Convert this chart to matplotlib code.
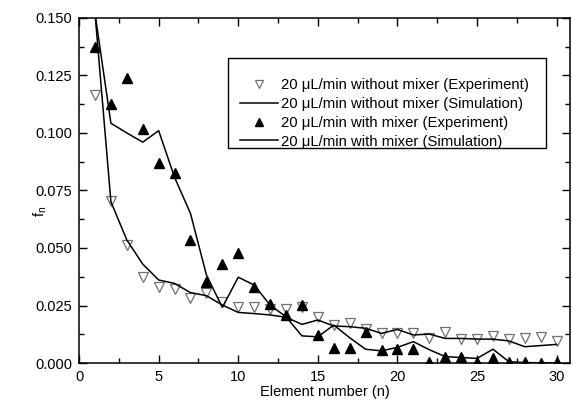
import numpy as np
import matplotlib.pyplot as plt
from matplotlib.patches import Rectangle
from matplotlib.ticker import MultipleLocator

plt.rcParams["font.family"] = ["Liberation Sans", "DejaVu Sans"]

element = np.arange(1, 31)

# 20 uL/min without mixer, experiment (open triangles)
no_mixer_exp = [0.1165, 0.0706, 0.0514, 0.0374, 0.0332, 0.0322, 0.0283, 0.0304,
                0.0265, 0.0245, 0.0245, 0.0235, 0.0235, 0.0242, 0.0201, 0.0165,
                0.0175, 0.0147, 0.0129, 0.0130, 0.0129, 0.0110, 0.0136, 0.0104,
                0.0106, 0.0117, 0.0104, 0.0110, 0.0115, 0.0096]

# 20 uL/min without mixer, simulation
no_mixer_sim = [0.152, 0.0701, 0.0535, 0.0430, 0.0361, 0.0346, 0.0306, 0.0293,
                0.0252, 0.0220, 0.0215, 0.0209, 0.0199, 0.0168, 0.0187, 0.0161,
                0.0158, 0.0151, 0.0129, 0.0146, 0.0122, 0.0126, 0.0107, 0.0107,
                0.0104, 0.0104, 0.0096, 0.0071, 0.0076, 0.0081]

# 20 uL/min with mixer, experiment (filled triangles)
mixer_exp = [0.1373, 0.1125, 0.1238, 0.1016, 0.0868, 0.0825, 0.0535, 0.0354,
             0.0430, 0.0480, 0.0332, 0.0255, 0.0209, 0.0252, 0.0122, 0.0064,
             0.0064, 0.0136, 0.0057, 0.0059, 0.0059, 0.0005, 0.0027, 0.0027,
             0.0006, 0.0020, 0.0003, 0.0003, 0.0002, 0.0005]

# 20 uL/min with mixer, simulation
mixer_sim = [0.152, 0.1042, 0.1000, 0.0960, 0.1010, 0.0807, 0.0650, 0.0383,
             0.0242, 0.0373, 0.0339, 0.0252, 0.0201, 0.0118, 0.0114, 0.0165,
             0.0110, 0.0060, 0.0053, 0.0068, 0.0093, 0.0058, 0.0028, 0.0024,
             0.0020, 0.0060, 0.0006, 0.0002, 0.0001, 0.0001]

fig = plt.figure(figsize=(5.73, 4.07), dpi=100)
ax = fig.add_axes([0.138, 0.108, 0.857, 0.848])

ax.plot(element, no_mixer_exp, linestyle="none", marker="v", markersize=7,
        markerfacecolor="white", markeredgecolor="#707070", markeredgewidth=0.9,
        label="20 \u03bcL/min without mixer (Experiment)")
ax.plot(element, no_mixer_sim, color="black", linewidth=1.1,
        label="20 \u03bcL/min without mixer (Simulation)")
ax.plot(element, mixer_exp, linestyle="none", marker="^", markersize=7,
        color="black", label="20 \u03bcL/min with mixer (Experiment)")
ax.plot(element, mixer_sim, color="black", linewidth=1.1,
        label="20 \u03bcL/min with mixer (Simulation)")

ax.set_xlim(0, 30.85)
ax.set_ylim(0, 0.150)
ax.xaxis.set_major_locator(MultipleLocator(5))
ax.xaxis.set_minor_locator(MultipleLocator(2.5))
ax.yaxis.set_major_locator(MultipleLocator(0.025))
ax.yaxis.set_minor_locator(MultipleLocator(0.0125))
ax.yaxis.set_major_formatter(plt.FormatStrFormatter("%.3f"))

ax.tick_params(which="both", direction="in", top=True, right=True,
               labelsize=10.5, width=1.0)
ax.tick_params(which="major", length=6, pad=5)
ax.tick_params(which="minor", length=3.5)
for s in ax.spines.values():
    s.set_linewidth(1.1)

ax.set_xlabel("Element number (n)", fontsize=10.5, labelpad=1)
ax.set_ylabel(r"f$_\mathregular{n}$", fontsize=10.5)
ax.yaxis.set_label_coords(-0.062, 0.44)

# legend box drawn by hand, legend entries without frame
ax.add_patch(Rectangle((0.3035, 0.623), 0.6475, 0.261, transform=ax.transAxes,
                       fill=False, edgecolor="black", linewidth=1.0, zorder=5))
ax.legend(loc="upper left", bbox_to_anchor=(0.328, 0.826), fontsize=10.7,
          frameon=False, borderpad=0, borderaxespad=0, markerscale=0.8,
          handlelength=2.55, handletextpad=0.2, labelspacing=0.33)

fig.savefig("out.png", dpi=100)
